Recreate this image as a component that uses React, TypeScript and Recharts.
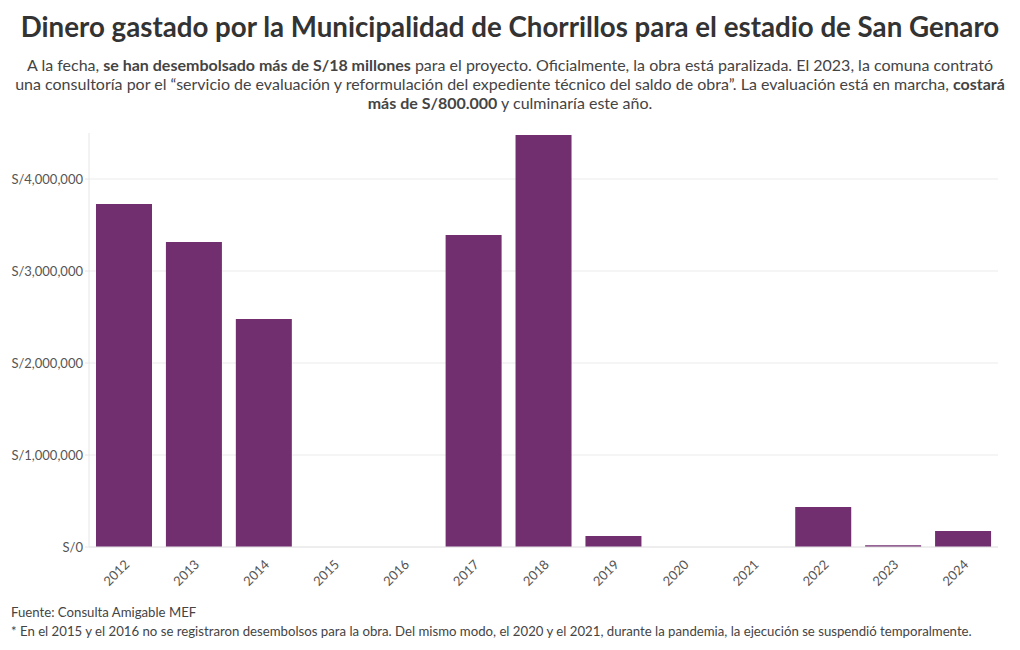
import { BarChart, Bar, XAxis, YAxis, CartesianGrid } from 'recharts';

const years = ['2012', '2013', '2014', '2015', '2016', '2017', '2018', '2019', '2020', '2021', '2022', '2023', '2024'];
const spent = [3728000, 3315000, 2478000, 0, 0, 3391000, 4478000, 120000, 0, 0, 435000, 20000, 174000];
const yTicks = [0, 1000000, 2000000, 3000000, 4000000];

const data = years.map((year, i) => ({ year, spent: spent[i] }));

const FONT = '"Source Sans Pro", Lato, "Noto Sans", sans-serif';
const BAR_COLOR = '#722f70';

const fmtSoles = (v: number) => 'S/' + v.toLocaleString('en-US');

function XTick({ x, y, payload }: any) {
  return (
    <text
      x={x + 4}
      y={y + 8}
      transform={`rotate(-45 ${x + 4} ${y + 8})`}
      textAnchor="end"
      dominantBaseline="middle"
      fontSize={13}
      fill="#555"
      fontFamily={FONT}
    >
      {payload.value}
    </text>
  );
}

export default function App() {
  return (
    <div
      style={{
        position: 'absolute',
        left: 0,
        top: 0,
        width: 1020,
        height: 650,
        background: '#fff',
        fontFamily: FONT,
        color: '#333',
      }}
    >
      <div
        style={{
          position: 'absolute',
          top: 10,
          left: 0,
          width: 1020,
          textAlign: 'center',
          fontSize: 27.7,
          fontWeight: 700,
          color: '#333',
          whiteSpace: 'nowrap',
        }}
      >
        Dinero gastado por la Municipalidad de Chorrillos para el estadio de San Genaro
      </div>
      <div
        style={{
          position: 'absolute',
          top: 55,
          left: 0,
          width: 1020,
          textAlign: 'center',
          fontSize: 16,
          lineHeight: '19px',
          color: '#444',
          whiteSpace: 'nowrap',
        }}
      >
        A la fecha, <b>se han desembolsado más de S/18 millones</b> para el proyecto. Oficialmente, la obra está
        paralizada. El 2023, la comuna contrató
        <br />
        una consultoría por el “servicio de evaluación y reformulación del expediente técnico del saldo de obra”. La
        evaluación está en marcha, <b>costará</b>
        <br />
        <b>más de S/800.000</b> y culminaría este año.
      </div>

      <div style={{ position: 'absolute', left: 0, top: 0 }}>
        <BarChart
          width={1020}
          height={592}
          data={data}
          margin={{ top: 133, right: 22, bottom: 0, left: 9 }}
          barCategoryGap="10%"
        >
          <CartesianGrid vertical={false} stroke="#ebebeb" syncWithTicks />
          <XAxis
            dataKey="year"
            height={45}
            tickLine={false}
            axisLine={{ stroke: '#e6e6e6' }}
            tick={<XTick />}
            interval={0}
          />
          <YAxis
            width={80}
            domain={[0, 4500000]}
            ticks={yTicks}
            tickFormatter={fmtSoles}
            tickLine={{ stroke: '#e6e6e6' }}
            tickSize={4}
            axisLine={{ stroke: '#e6e6e6' }}
            tick={{ fontSize: 13, fill: '#555', fontFamily: FONT }}
          />
          <Bar dataKey="spent" fill={BAR_COLOR} isAnimationActive={false} />
        </BarChart>
      </div>

      <div
        style={{
          position: 'absolute',
          left: 11,
          top: 603,
          fontSize: 13.2,
          lineHeight: '19px',
          color: '#444',
          whiteSpace: 'nowrap',
        }}
      >
        Fuente: Consulta Amigable MEF
        <br />* En el 2015 y el 2016 no se registraron desembolsos para la obra. Del mismo modo, el 2020 y el 2021,
        durante la pandemia, la ejecución se suspendió temporalmente.
      </div>
    </div>
  );
}
